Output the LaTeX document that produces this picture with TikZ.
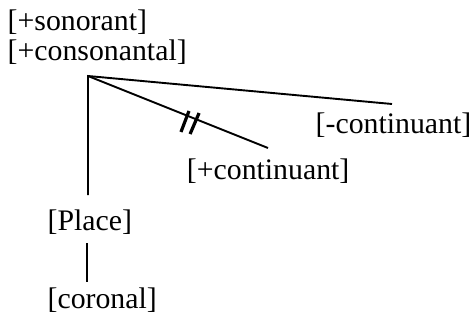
\documentclass[tikz,border=0pt]{standalone}
\usepackage{fontspec}
\setmainfont{Liberation Serif}
\begin{document}
\begin{tikzpicture}[x=1pt,y=-1pt,
  lab/.style={anchor=base west,inner sep=0pt,font=\fontsize{29.8}{30}\selectfont},
  branch/.style={line width=1.9pt},
  hash/.style={line width=3.2pt}]
\useasboundingbox (0,0) rectangle (476,321);
\node[lab] (son) at (7.5,30.4) {[+sonorant]};
\node[lab] (cons) at (7.5,60.4) {[+consonantal]};
\coordinate (root) at (88,76);
\coordinate (mc) at (392,104);
\coordinate (pc) at (268,148);
\coordinate (pl) at (88,195);
\node[lab] (minus) at (315.5,133.6) {[-continuant]};
\node[lab] (plus) at (186.7,179.9) {[+continuant]};
\node[lab] (place) at (47.4,230.4) {[Place]};
\node[lab] (cor) at (47.4,308.3) {[coronal]};
\coordinate (p1) at (87.3,243);
\coordinate (p2) at (87.3,282);
\draw[branch] (pl) -- (root) -- (mc);
\draw[branch] (root) -- (pc) coordinate[pos=0.551] (h1) coordinate[pos=0.602] (h2);
\draw[branch] (p1) -- (p2);
\draw[hash] ([shift={(1.8,-4.7)}]h1) -- ([shift={(-6.2,16.3)}]h1);
\draw[hash] ([shift={(2.7,-6.3)}]h2) -- ([shift={(-6.3,14.7)}]h2);
\end{tikzpicture}
\end{document}
